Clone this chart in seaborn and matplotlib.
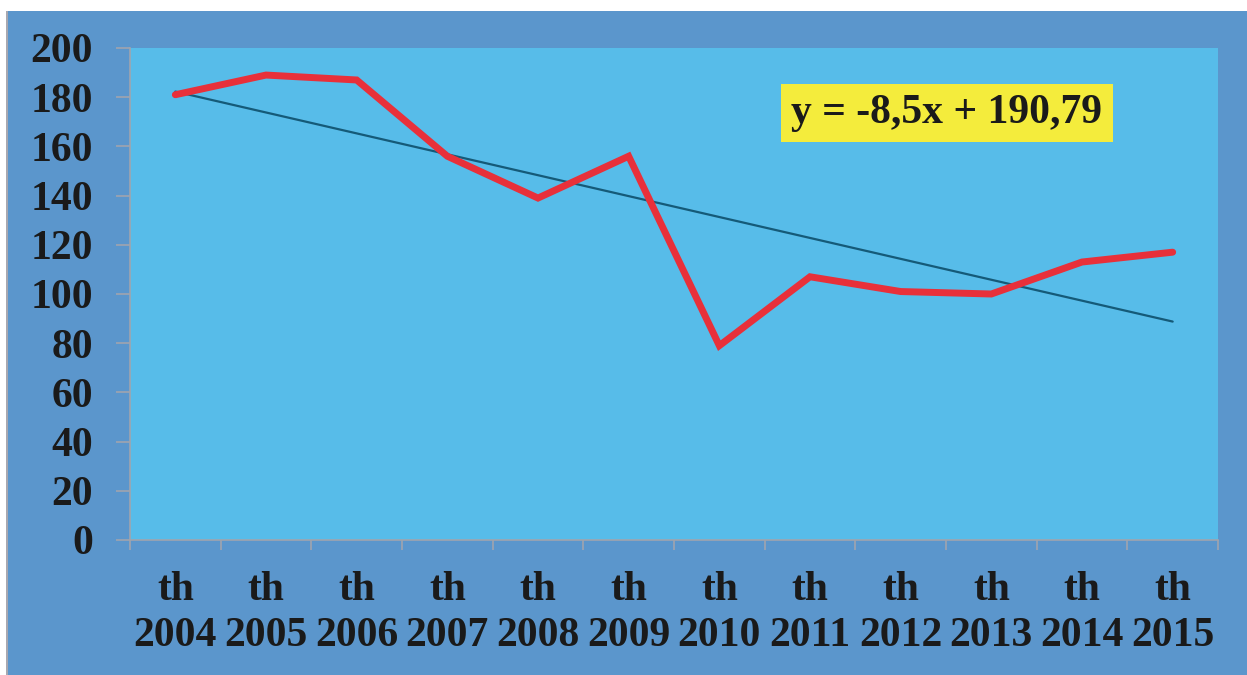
import matplotlib
matplotlib.use("Agg")
import matplotlib.pyplot as plt
import seaborn as sns
import pandas as pd
import numpy as np
from matplotlib.patches import Rectangle
from matplotlib.ticker import FixedLocator, NullFormatter

years = ["2004", "2005", "2006", "2007", "2008", "2009",
         "2010", "2011", "2012", "2013", "2014", "2015"]
values = [181, 189, 187, 156, 139, 156, 79, 107, 101, 100, 113, 117]
trend_slope = -8.5
trend_intercept = 190.79
equation_label = "y = -8,5x + 190,79"
y_ticks = [0, 20, 40, 60, 80, 100, 120, 140, 160, 180, 200]

sns.set_theme(style="white")
plt.rcParams['font.family'] = ['Liberation Serif', 'DejaVu Serif']
plt.rcParams['font.weight'] = 'bold'

W, H = 1247, 675
fig = plt.figure(figsize=(W / 100, H / 100), dpi=100, facecolor="white")

# outer blue panel
fig.patches.append(Rectangle((7 / W, 0), 1 - 7 / W, (H - 11) / H,
                             transform=fig.transFigure, facecolor="#5b96cc",
                             edgecolor="none", zorder=-10))
fig.patches.append(Rectangle((6 / W, 0), 2 / W, (H - 11) / H,
                             transform=fig.transFigure, facecolor="#a8a8b0",
                             edgecolor="none", zorder=-10))

left, right, top, bottom = 130, 1218, 48, 540
ax = fig.add_axes([left / W, (H - bottom) / H, (right - left) / W, (bottom - top) / H])
ax.set_zorder(1)
ax.set_facecolor("#57bce9")

idx = np.arange(len(years))
df = pd.DataFrame({"idx": idx, "value": values})
trend = trend_slope * (idx + 1) + trend_intercept
df["trend"] = trend

sns.lineplot(data=df, x="idx", y="trend", ax=ax, color="#155a78", linewidth=1.6, zorder=2)
sns.lineplot(data=df, x="idx", y="value", ax=ax, color="#e8303a", linewidth=5.0,
             zorder=3, solid_joinstyle="miter", solid_capstyle="round")

ax.set_xlim(-0.5, len(years) - 0.5)
ax.set_ylim(0, 200)
ax.set_xlabel("")
ax.set_ylabel("")

ax.set_yticks(y_ticks)
ax.set_yticklabels([str(v) for v in y_ticks], fontsize=30, fontweight="bold", color="#1a1a1a")
ax.tick_params(axis="y", which="major", length=10, width=1.2, color="#a0a4ae",
               direction="out", left=True, pad=16.5)

ax.set_xticks(idx)
ax.set_xticklabels(["th\n" + y for y in years], fontsize=30, fontweight="bold",
                   color="#1a1a1a", linespacing=1.3)
ax.tick_params(axis="x", which="major", length=0, pad=22)
ax.xaxis.set_minor_locator(FixedLocator(np.arange(-0.5, len(years), 1.0)))
ax.xaxis.set_minor_formatter(NullFormatter())
ax.tick_params(axis="x", which="minor", length=7, width=1.2, color="#a0a4ae",
               direction="out", bottom=True)

for s in ["top", "right"]:
    ax.spines[s].set_visible(False)
for s in ["left", "bottom"]:
    ax.spines[s].set_color("#a0a4ae")
    ax.spines[s].set_linewidth(1.2)

ax.text(947 / W, 1 - 113 / H, equation_label, transform=fig.transFigure,
        ha="center", va="center", fontsize=30, fontweight="bold", color="#1a1a1a",
        bbox=dict(boxstyle="square,pad=0.25", facecolor="#f4ec3c", edgecolor="none"),
        zorder=5)

fig.savefig("out.png", dpi=100, facecolor="white")
